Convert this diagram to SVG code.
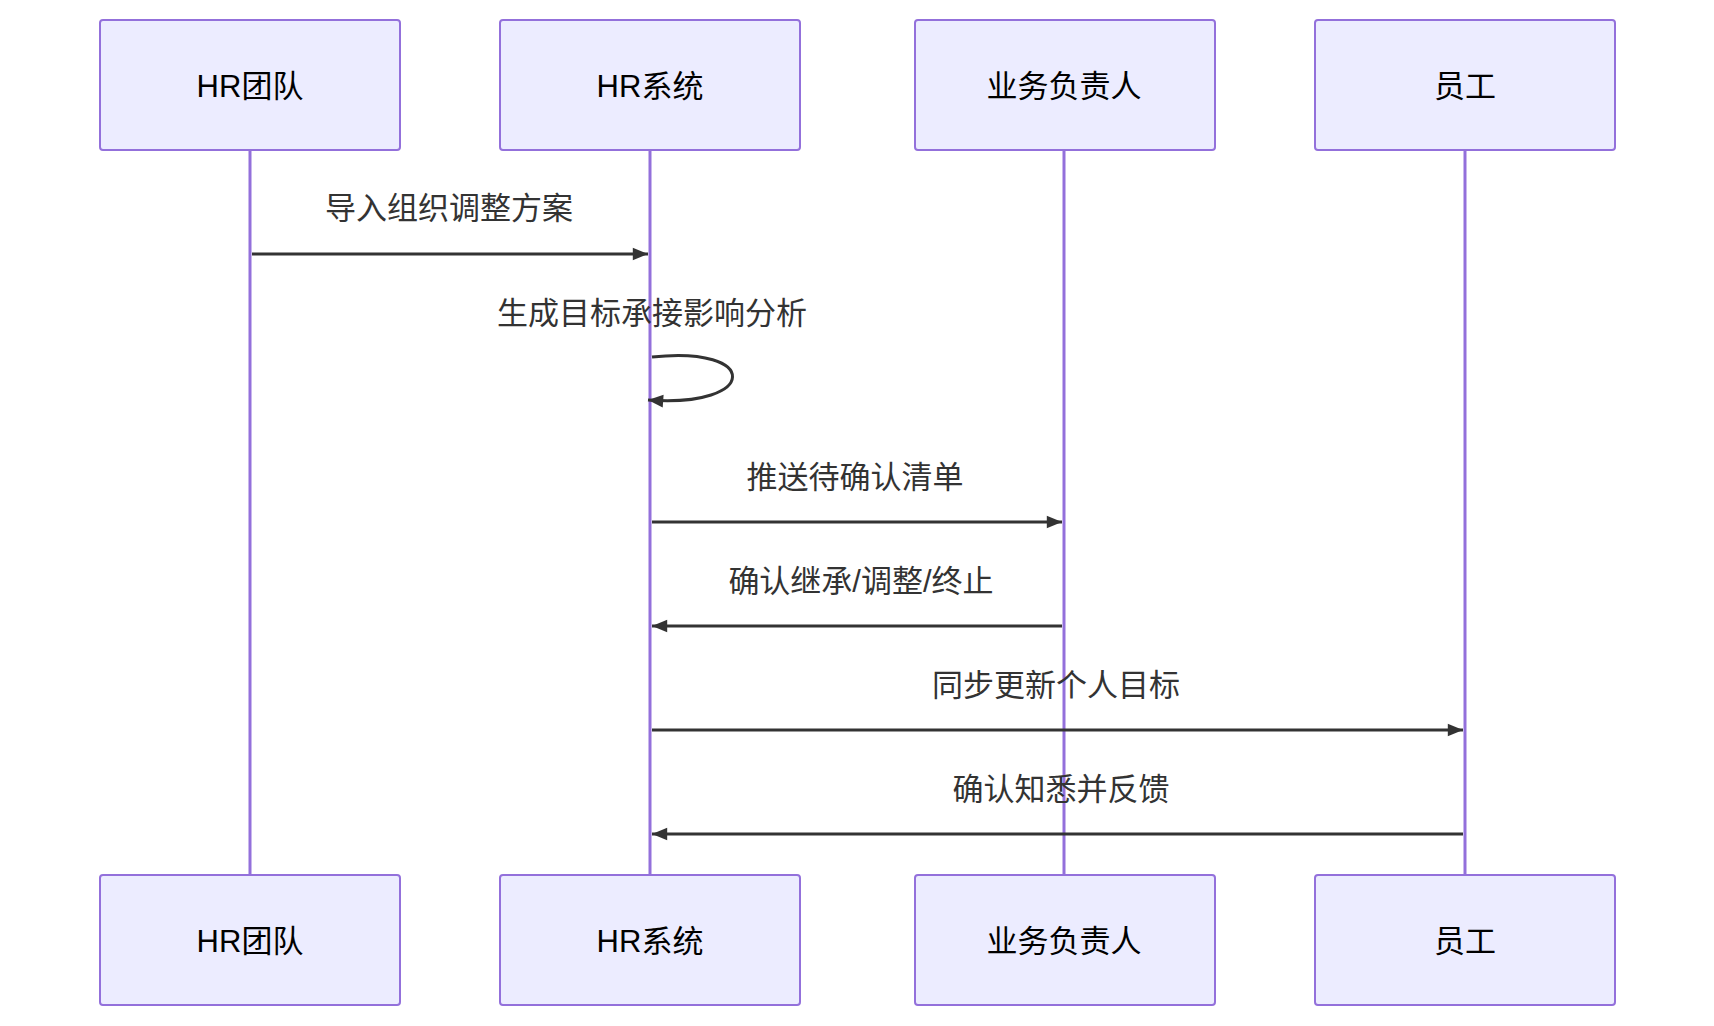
<svg xmlns="http://www.w3.org/2000/svg" width="1714" height="1026" viewBox="0 0 1714 1026">
<style>
.box{fill:#ECECFF;stroke:#9370DB;stroke-width:2}
.life{stroke:#9370DB;stroke-width:3}
.t{font-family:"Liberation Sans","Noto Sans CJK SC",sans-serif;font-size:31px;text-anchor:middle;dominant-baseline:central;fill:#000}
.m{font-family:"Liberation Sans","Noto Sans CJK SC",sans-serif;font-size:31px;text-anchor:middle;dominant-baseline:central;fill:#333}
.msg{stroke:#333;stroke-width:3;fill:none;marker-end:url(#a)}
</style>
<defs><marker id="a" viewBox="0 0 12 10" refX="12" refY="5" markerWidth="8" markerHeight="7" markerUnits="userSpaceOnUse" orient="auto" style="overflow:visible"><path d="M0,0L12,5L0,10z" fill="#333" transform="scale(1.9)" transform-origin="12 5"/></marker></defs>
<g id="lifelines">
<line class="life" x1="250" y1="150" x2="250" y2="875"/>
<line class="life" x1="650" y1="150" x2="650" y2="875"/>
<line class="life" x1="1064" y1="150" x2="1064" y2="875"/>
<line class="life" x1="1465" y1="150" x2="1465" y2="875"/>
</g>
<g id="a1"><rect class="box" x="100" y="20" width="300" height="130" rx="3"/><text class="t" x="250" y="86">HR团队</text></g>
<g id="a2"><rect class="box" x="500" y="20" width="300" height="130" rx="3"/><text class="t" x="650" y="86">HR系统</text></g>
<g id="a3"><rect class="box" x="915" y="20" width="300" height="130" rx="3"/><text class="t" x="1064" y="86">业务负责人</text></g>
<g id="a4"><rect class="box" x="1315" y="20" width="300" height="130" rx="3"/><text class="t" x="1465" y="86">员工</text></g>
<g id="b1"><rect class="box" x="100" y="875" width="300" height="130" rx="3"/><text class="t" x="250" y="941">HR团队</text></g>
<g id="b2"><rect class="box" x="500" y="875" width="300" height="130" rx="3"/><text class="t" x="650" y="941">HR系统</text></g>
<g id="b3"><rect class="box" x="915" y="875" width="300" height="130" rx="3"/><text class="t" x="1064" y="941">业务负责人</text></g>
<g id="b4"><rect class="box" x="1315" y="875" width="300" height="130" rx="3"/><text class="t" x="1465" y="941">员工</text></g>
<g id="connectors">
<line class="msg" x1="252" y1="254" x2="648" y2="254"/>
<path class="msg" d="M652,357 C760,345 760,408 648,400"/>
<line class="msg" x1="652" y1="522" x2="1062" y2="522"/>
<line class="msg" x1="1062" y1="626" x2="652" y2="626"/>
<line class="msg" x1="652" y1="730" x2="1463" y2="730"/>
<line class="msg" x1="1463" y1="834" x2="652" y2="834"/>
</g>
<g id="labels">
<text class="m" x="449" y="208">导入组织调整方案</text>
<text class="m" x="652" y="313">生成目标承接影响分析</text>
<text class="m" x="855" y="477">推送待确认清单</text>
<text class="m" x="861" y="581">确认继承/调整/终止</text>
<text class="m" x="1056" y="685">同步更新个人目标</text>
<text class="m" x="1061" y="789">确认知悉并反馈</text>
</g>
</svg>
